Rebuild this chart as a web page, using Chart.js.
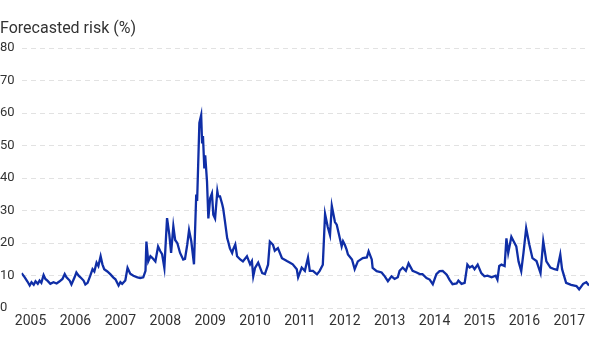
<!DOCTYPE html>
<html lang="en">
<head>
    <meta charset="UTF-8">
    <title>Forecasted risk</title>
    <script src="https://cdn.jsdelivr.net/npm/chart.js"></script>
    <style>
        html, body { margin: 0; padding: 0; background: #fff; }
        #wrap { width: 590px; height: 340px; }
    </style>
</head>
<body>
    <div id="wrap"><canvas id="riskchart"></canvas></div>
<script>
    // dates as decimal years, values in %
    const dates = [
        2004.80, 2004.87, 2004.93, 2004.98, 2005.02, 2005.07, 2005.11, 2005.16, 2005.20, 2005.24,
        2005.29, 2005.33, 2005.38, 2005.44, 2005.51, 2005.58, 2005.64, 2005.71, 2005.76, 2005.80,
        2005.87, 2005.91, 2005.98, 2006.02, 2006.07, 2006.11, 2006.18, 2006.22, 2006.27, 2006.33,
        2006.38, 2006.42, 2006.47, 2006.51, 2006.56, 2006.60, 2006.64, 2006.71, 2006.78, 2006.84,
        2006.89, 2006.96, 2007.00, 2007.04, 2007.11, 2007.16, 2007.22, 2007.29, 2007.38, 2007.44,
        2007.51, 2007.56, 2007.58, 2007.62, 2007.67, 2007.71, 2007.78, 2007.84, 2007.89, 2007.93,
        2007.98, 2008.04, 2008.09, 2008.13, 2008.18, 2008.22, 2008.27, 2008.33, 2008.40, 2008.44,
        2008.49, 2008.53, 2008.58, 2008.64, 2008.69, 2008.71, 2008.76, 2008.80, 2008.82, 2008.84,
        2008.87, 2008.89, 2008.93, 2008.96, 2009.00, 2009.04, 2009.07, 2009.11, 2009.16, 2009.18,
        2009.22, 2009.27, 2009.29, 2009.33, 2009.38, 2009.40, 2009.44, 2009.49, 2009.51, 2009.56,
        2009.60, 2009.67, 2009.73, 2009.82, 2009.89, 2009.93, 2009.96, 2010.00, 2010.07, 2010.16,
        2010.22, 2010.29, 2010.33, 2010.40, 2010.44, 2010.51, 2010.60, 2010.71, 2010.78, 2010.84,
        2010.93, 2010.96, 2011.04, 2011.11, 2011.18, 2011.22, 2011.29, 2011.38, 2011.44, 2011.51,
        2011.56, 2011.62, 2011.67, 2011.71, 2011.78, 2011.82, 2011.87, 2011.93, 2011.96, 2012.00,
        2012.04, 2012.07, 2012.16, 2012.22, 2012.29, 2012.40, 2012.49, 2012.53, 2012.60, 2012.62,
        2012.71, 2012.82, 2012.89, 2012.96, 2013.04, 2013.11, 2013.18, 2013.22, 2013.29, 2013.36,
        2013.42, 2013.51, 2013.60, 2013.67, 2013.73, 2013.82, 2013.89, 2013.96, 2014.04, 2014.11,
        2014.18, 2014.27, 2014.33, 2014.40, 2014.49, 2014.53, 2014.60, 2014.67, 2014.73, 2014.78,
        2014.84, 2014.89, 2014.96, 2015.04, 2015.11, 2015.18, 2015.27, 2015.36, 2015.40, 2015.44,
        2015.49, 2015.56, 2015.60, 2015.64, 2015.71, 2015.76, 2015.82, 2015.87, 2015.93, 2015.98,
        2016.04, 2016.11, 2016.18, 2016.27, 2016.36, 2016.42, 2016.49, 2016.58, 2016.67, 2016.73,
        2016.80, 2016.84, 2016.93, 2017.04, 2017.16, 2017.22, 2017.31, 2017.38, 2017.44
    ];
    const risk = [
        10.8, 9.5, 8.2, 7.0, 8.0, 7.2, 8.3, 7.5, 8.5, 7.8,
        10.2, 9.0, 8.4, 7.5, 8.0, 7.6, 8.2, 9.0, 10.5, 9.5,
        8.5, 7.3, 9.5, 11.0, 10.0, 9.5, 8.5, 7.3, 7.8, 10.0,
        12.0, 11.3, 14.0, 13.0, 16.0, 13.5, 12.0, 11.3, 10.4, 9.5,
        8.9, 7.0, 8.0, 7.5, 8.5, 12.4, 10.6, 10.0, 9.5, 9.3,
        9.5, 11.5, 20.5, 14.4, 16.0, 15.5, 14.4, 19.0, 17.5, 16.6,
        12.4, 27.7, 22.7, 17.0, 25.2, 21.0, 20.0, 17.0, 15.0, 15.2,
        19.6, 24.0, 20.6, 13.5, 35.0, 33.0, 57.0, 59.4, 51.0, 53.0,
        43.0, 47.0, 39.0, 27.6, 33.8, 35.3, 28.8, 27.6, 36.0, 34.4,
        34.4, 31.9, 30.7, 26.7, 21.5, 20.6, 18.4, 17.0, 18.0, 19.6,
        16.0, 15.0, 14.4, 16.0, 13.5, 14.5, 9.8, 12.4, 14.0, 10.8,
        10.5, 13.4, 20.5, 19.5, 17.7, 18.5, 15.4, 14.5, 14.0, 13.5,
        12.0, 9.5, 12.5, 11.5, 15.6, 11.5, 11.5, 10.4, 11.5, 13.4,
        29.0, 25.0, 22.5, 31.5, 26.5, 25.7, 22.7, 19.0, 20.6, 19.5,
        18.0, 16.5, 15.0, 12.0, 14.4, 15.4, 15.6, 17.5, 15.0, 12.4,
        11.4, 11.0, 9.8, 8.3, 9.8, 9.0, 9.5, 11.5, 12.5, 11.5,
        13.8, 11.5, 11.0, 10.5, 10.5, 9.3, 8.8, 7.4, 10.5, 11.4,
        11.5, 10.3, 8.8, 7.4, 7.6, 8.5, 7.5, 7.8, 13.4, 12.5,
        13.0, 12.0, 13.4, 10.8, 9.8, 10.0, 9.5, 10.0, 8.8, 13.0,
        13.4, 13.0, 21.5, 17.0, 22.0, 20.6, 19.0, 14.4, 11.4, 17.0,
        24.6, 19.6, 15.4, 14.5, 10.8, 20.6, 14.4, 12.5, 12.0, 11.8,
        16.5, 12.0, 7.8, 7.2, 6.8, 5.8, 7.5, 8.0, 7.0
    ];
    const yearTicks = [2005, 2006, 2007, 2008, 2009, 2010, 2011, 2012, 2013, 2014, 2015, 2016, 2017];
    const riskTicks = [0, 10, 20, 30, 40, 50, 60, 70, 80];

    const points = dates.map((d, i) => ({ x: d, y: risk[i] }));

    const ctx = document.getElementById('riskchart');
    new Chart(ctx, {
        type: 'line',
        data: {
            datasets: [{
                label: 'Forecasted risk (%)',
                data: points,
                borderColor: '#0f2ea6',
                borderWidth: 2.3,
                pointRadius: 0,
                tension: 0,
                fill: false
            }]
        },
        options: {
            responsive: true,
            maintainAspectRatio: false,
            animation: false,
            layout: { padding: { top: 19, left: 0, right: 0, bottom: 5 } },
            plugins: {
                legend: { display: false },
                tooltip: { enabled: false },
                title: {
                    display: true,
                    text: 'Forecasted risk (%)',
                    align: 'start',
                    color: '#333',
                    font: { family: 'Roboto', size: 16, weight: 'normal' },
                    padding: { top: 0, bottom: 10 }
                }
            },
            scales: {
                x: {
                    type: 'linear',
                    min: 2004.80,
                    max: 2017.44,
                    afterBuildTicks: axis => { axis.ticks = yearTicks.map(v => ({ value: v })); },
                    grid: { display: false, drawTicks: false },
                    border: { display: false },
                    ticks: {
                        autoSkip: false,
                        maxRotation: 0,
                        padding: 5,
                        color: '#333',
                        font: { family: 'Roboto', size: 14 },
                        callback: v => String(v)
                    }
                },
                y: {
                    min: 0,
                    max: 80,
                    afterBuildTicks: axis => { axis.ticks = riskTicks.map(v => ({ value: v })); },
                    grid: { color: '#e2e2e2', drawTicks: false },
                    border: { display: false, dash: [5, 4] },
                    ticks: {
                        crossAlign: 'far',
                        padding: 3.5,
                        color: '#333',
                        font: { family: 'Roboto', size: 13 }
                    }
                }
            }
        }
    });
</script>
</body>
</html>
